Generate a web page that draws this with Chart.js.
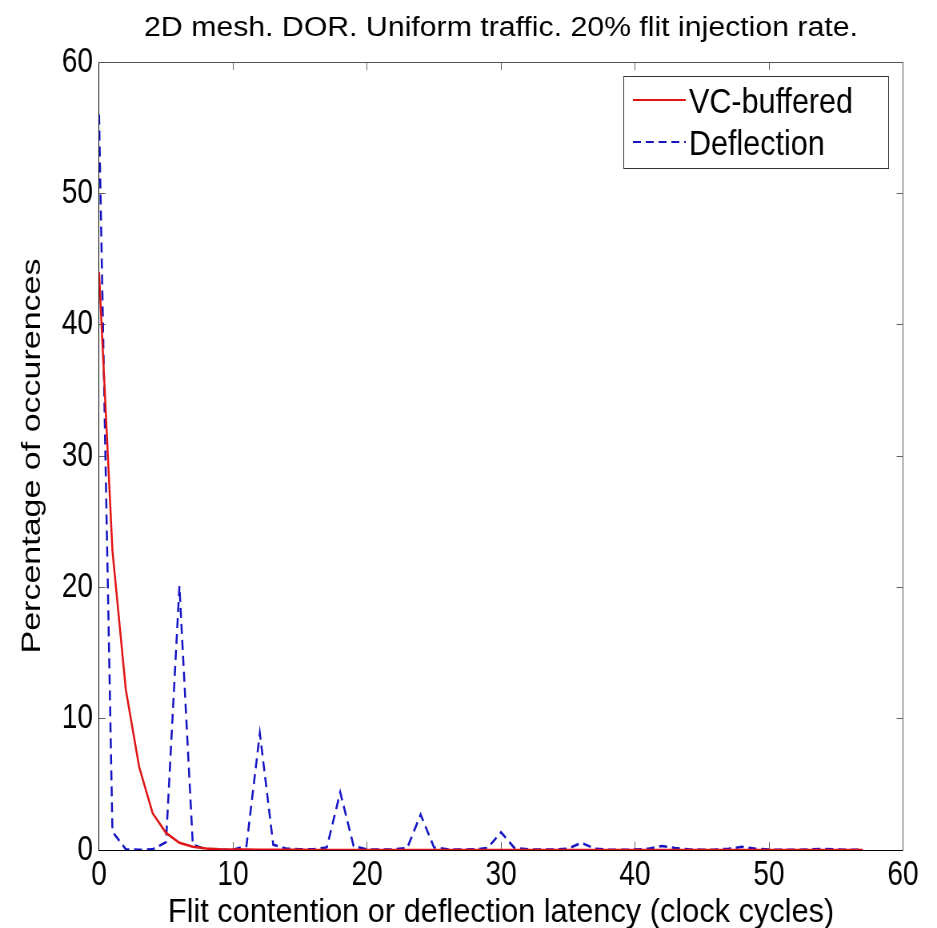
<!DOCTYPE html>
<html>
<head>
<meta charset="utf-8">
<script src="https://cdn.jsdelivr.net/npm/chart.js@4.4.1/dist/chart.umd.min.js"></script>
<style>
  html, body { margin: 0; padding: 0; background: #fff; }
  #wrap { width: 937px; height: 928px; overflow: hidden; }
  /* the figure is drawn wider and squeezed horizontally, as in the original picture */
  #latencyChart { display: block; width: 937px; height: 928px; }
</style>
</head>
<body>
<div id="wrap"><canvas id="latencyChart" width="1171" height="928" style="width:937px;height:928px"></canvas></div>
<script>
// title and axis texts
const chartTitle = "2D mesh. DOR. Uniform traffic. 20% flit injection rate.";
const xTitle = "Flit contention or deflection latency (clock cycles)";
const yTitle = "Percentage of occurences";

// latency in clock cycles (x values)
const latency = [0, 1, 2, 3, 4, 5, 6, 7, 8, 9, 10, 11, 12, 13, 14, 15, 16, 17, 18, 19,
    20, 21, 22, 23, 24, 25, 26, 27, 28, 29, 30, 31, 32, 33, 34, 35, 36, 37, 38, 39,
    40, 41, 42, 43, 44, 45, 46, 47, 48, 49, 50, 51, 52, 53, 54, 55, 56, 57];

// percentage of occurences, VC-buffered router
const vcBuffered = [44, 22.8, 12.2, 6.3, 2.8, 1.3, 0.55, 0.25, 0.12, 0.06, 0.04, 0.03, 0.02, 0.01, 0.01, 0.01,
    0, 0, 0, 0, 0, 0, 0, 0, 0, 0, 0, 0, 0, 0, 0, 0, 0, 0, 0, 0, 0, 0, 0, 0,
    0, 0, 0, 0, 0, 0, 0, 0, 0, 0, 0, 0, 0, 0, 0, 0, 0, 0];

// percentage of occurences, deflection router
const deflection = [56.0, 1.4, 0.05, 0.02, 0.05, 0.6, 20.1, 0.4, 0.05, 0.02,
    0.03, 0.3, 8.9, 0.4, 0.1, 0.05, 0.05, 0.2, 4.4, 0.3,
    0.05, 0.03, 0.05, 0.15, 2.7, 0.2, 0.05, 0.03, 0.05, 0.15,
    1.35, 0.15, 0.05, 0.03, 0.03, 0.1, 0.55, 0.1, 0.03, 0.02,
    0.03, 0.1, 0.3, 0.15, 0.05, 0.02, 0.03, 0.1, 0.25, 0.1,
    0.03, 0.02, 0.02, 0.05, 0.08, 0.05, 0.02, 0.01];

// tick values of both axes
const xTicks = [0, 10, 20, 30, 40, 50, 60];
const yTicks = [0, 10, 20, 30, 40, 50, 60];

const plainFont = "'Liberation Sans', Arial, sans-serif";

// pair x values with a series -> [{x, y}]
function toPoints (values) {
    return latency.map((x, i) => ({ x: x, y: values[i] })); }

// one axis with MATLAB-like inward ticks
function makeAxis (position, ticks, showLabels, size, borderColor) {
    return {
        type: 'linear', position: position, min: 0, max: 60,
        afterBuildTicks: (s) => { s.ticks = ticks.map((v) => ({ value: v })); },
        afterFit: (s) => { if (s.isHorizontal()) { s.height = size; } else { s.width = size; } },
        grid: { drawOnChartArea: false, drawTicks: true, tickLength: -8, color: '#666', lineWidth: 1 },
        border: { display: true, color: borderColor, width: 1 },
        ticks: { display: showLabels, padding: position === 'bottom' ? 12 : 15.5,
            color: '#000', font: { family: plainFont, size: 35 } }
    }; }

// text stretched horizontally around its centre (x, baseline y)
function stretchedText (ctx, text, x, y, size, stretch, align) {
    ctx.save();
    ctx.font = size + "px " + plainFont;
    ctx.textAlign = align;
    ctx.textBaseline = 'alphabetic';
    ctx.fillStyle = '#000';
    ctx.translate(x, y);
    ctx.scale(stretch, 1);
    ctx.fillText(text, 0, 0);
    ctx.restore(); }

// draws title, x axis label and the boxed legend in the upper right corner
const matlabDecor = {
    id: 'matlabDecor',
    afterDraw (chart) {
        const ctx = chart.ctx;
        const area = chart.chartArea;
        const midX = (area.left + area.right) / 2;
        stretchedText(ctx, chartTitle, midX, 36, 27, 1.4, 'center');
        stretchedText(ctx, xTitle, midX, 922, 34, 1.13, 'center');

        // legend box
        const box = { left: 779, top: 76, right: 1110, bottom: 168 };
        ctx.save();
        ctx.fillStyle = '#fff';
        ctx.fillRect(box.left, box.top, box.right - box.left, box.bottom - box.top);
        ctx.strokeStyle = '#333';
        ctx.lineWidth = 1;
        ctx.strokeRect(box.left + 0.5, box.top + 0.5, box.right - box.left, box.bottom - box.top);

        const rows = [100, 142];
        const baselines = [113, 155];
        chart.data.datasets.forEach((ds, i) => {
            ctx.beginPath();
            ctx.strokeStyle = ds.borderColor;
            ctx.lineWidth = 2;
            ctx.setLineDash(ds.borderDash || []);
            ctx.moveTo(791, rows[i]);
            ctx.lineTo(857, rows[i]);
            ctx.stroke();
            ctx.setLineDash([]);
            stretchedText(ctx, ds.label, 861, baselines[i], 35, 1.09, 'left');
        });
        ctx.restore();
    }
};

const latencyChart = new Chart("latencyChart", {
    type: 'line',
    data: {
        datasets: [
            { label: 'VC-buffered', data: toPoints(vcBuffered), borderColor: 'rgb(225, 20, 20)',
                borderWidth: 2.5, pointRadius: 0, tension: 0, fill: false },
            { label: 'Deflection', data: toPoints(deflection), borderColor: 'rgb(20, 20, 195)',
                borderWidth: 2.5, borderDash: [10, 6], pointRadius: 0, tension: 0, fill: false }
        ]
    },
    options: {
        responsive: false,
        animation: false,
        layout: { padding: { top: 62, right: 42.5, bottom: 0, left: 0 } },
        plugins: { legend: { display: false }, title: { display: false }, tooltip: { enabled: false } },
        scales: {
            x: makeAxis('bottom', xTicks, true, 78, '#000'),
            y: Object.assign(makeAxis('left', yTicks, true, 123.75, '#000'), {
                title: { display: true, text: yTitle, color: '#000', padding: { top: 23.5, bottom: 0 },
                    font: { family: plainFont, size: 34, lineHeight: 1 } } }),
            x2: makeAxis('top', xTicks, false, 0, '#555'),
            y2: makeAxis('right', yTicks, false, 0, '#555')
        }
    },
    plugins: [matlabDecor]
});
</script>
</body>
</html>
